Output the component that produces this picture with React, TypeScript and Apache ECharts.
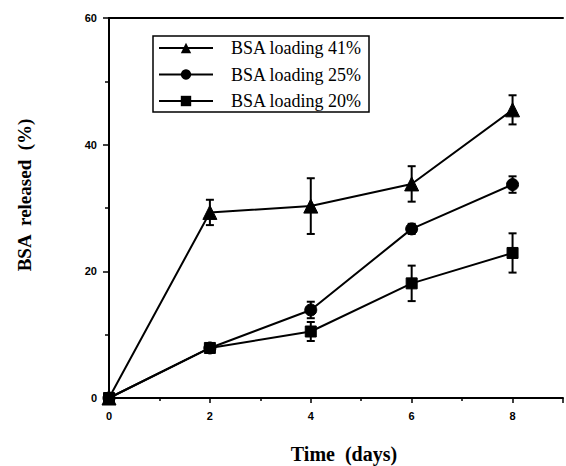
import React, { useEffect, useRef } from "react";
import * as echarts from "echarts";

const days = [0, 2, 4, 6, 8];
const load41 = [0, 29.3, 30.3, 33.8, 45.5];
const load41Err = [0, 2.0, 4.4, 2.8, 2.3];
const load25 = [0, 7.9, 13.9, 26.7, 33.7];
const load25Err = [0, 0.5, 1.3, 0.8, 1.3];
const load20 = [0, 7.9, 10.5, 18.1, 22.9];
const load20Err = [0, 0.5, 1.5, 2.8, 3.1];
const seriesNames = ["BSA loading 41%", "BSA loading 25%", "BSA loading 20%"];
const xTicks = [0, 2, 4, 6, 8];
const yTicks = [0, 20, 40, 60];

const SERIF = "'Liberation Serif', 'DejaVu Serif', serif";
const SANS = "'Liberation Sans', Arial, sans-serif";

function pairs(ys: number[]) {
  return days.map((d, i) => [d, ys[i]]);
}

function errSeries(ys: number[], errs: number[]) {
  return {
    type: "custom",
    silent: true,
    z: 3,
    data: days.map((d, i) => [d, ys[i], errs[i]]),
    renderItem: (_params: any, api: any) => {
      const x = api.value(0);
      const y = api.value(1);
      const e = api.value(2);
      if (!e) return { type: "group", children: [] };
      const top = api.coord([x, y + e]);
      const bot = api.coord([x, y - e]);
      const w = 4;
      const style = { stroke: "#000", lineWidth: 2 };
      return {
        type: "group",
        children: [
          { type: "line", shape: { x1: top[0], y1: top[1], x2: bot[0], y2: bot[1] }, style },
          { type: "line", shape: { x1: top[0] - w, y1: top[1], x2: top[0] + w, y2: top[1] }, style },
          { type: "line", shape: { x1: bot[0] - w, y1: bot[1], x2: bot[0] + w, y2: bot[1] }, style },
        ],
      };
    },
  };
}

export default function App() {
  const ref = useRef<HTMLDivElement>(null);
  useEffect(() => {
    document.body.style.margin = "0";
    if (!ref.current) return;
    const chart = echarts.init(ref.current, undefined, { renderer: "svg" });
    const lineBase = {
      type: "line",
      z: 4,
      lineStyle: { color: "#000", width: 2 },
      itemStyle: { color: "#000", borderColor: "#000" },
      showAllSymbol: true,
    };
    chart.setOption({
      animation: false,
      backgroundColor: "#fff",
      grid: { left: 109, top: 18, right: 0, bottom: 68, containLabel: false },
      legend: {
        orient: "vertical",
        left: 153,
        top: 36,
        data: seriesNames,
        backgroundColor: "#fff",
        borderColor: "#000",
        borderWidth: 1.5,
        borderRadius: 0,
        padding: [3, 7, 2, 5],
        itemWidth: 54,
        itemHeight: 13,
        itemGap: 8.5,
        textStyle: {
          fontFamily: SERIF,
          fontSize: 18,
          lineHeight: 18,
          color: "#000",
          padding: [0, 0, 0, 13],
        },
      },
      xAxis: [
        {
          type: "value",
          min: 0,
          max: 9,
          interval: 2,
          axisLine: { show: true, lineStyle: { color: "#000", width: 2 } },
          axisTick: { show: true, inside: false, length: 5, lineStyle: { color: "#000", width: 1.5 } },
          minorTick: { show: true, splitNumber: 2, length: 3, lineStyle: { color: "#000", width: 1.5 } },
          splitLine: { show: false },
          axisLabel: {
            fontFamily: SANS,
            fontWeight: "bold",
            fontSize: 11,
            color: "#000",
            margin: 12,
            formatter: (v: number) => (xTicks.includes(v) ? String(v) : ""),
          },
        },
        {
          type: "value",
          position: "top",
          min: 0,
          max: 9,
          axisLine: { show: true, onZero: false, lineStyle: { color: "#000", width: 2 } },
          axisTick: { show: false },
          axisLabel: { show: false },
          splitLine: { show: false },
        },
      ],
      yAxis: {
        type: "value",
        min: 0,
        max: 60,
        interval: 20,
        axisLine: { show: true, lineStyle: { color: "#000", width: 2 } },
        axisTick: { show: true, inside: false, length: 6, lineStyle: { color: "#000", width: 1.5 } },
        minorTick: { show: true, splitNumber: 2, length: 4, lineStyle: { color: "#000", width: 1.5 } },
        splitLine: { show: false },
        axisLabel: {
          fontFamily: SANS,
          fontWeight: "bold",
          fontSize: 11,
          color: "#000",
          margin: 12,
          formatter: (v: number) => (yTicks.includes(v) ? String(v) : ""),
        },
      },
      graphic: [
        {
          type: "text",
          x: 344,
          y: 454,
          style: {
            text: "Time  (days)",
            font: `bold 20px ${SERIF}`,
            fill: "#000",
            align: "center",
            verticalAlign: "middle",
          },
        },
        {
          type: "text",
          x: 24,
          y: 195,
          rotation: Math.PI / 2,
          style: {
            text: "BSA  released  (%)",
            font: `bold 19px ${SERIF}`,
            fill: "#000",
            align: "center",
            verticalAlign: "middle",
          },
        },
      ],
      series: [
        { ...lineBase, name: seriesNames[0], data: pairs(load41), symbol: "triangle", symbolSize: 14 },
        { ...lineBase, name: seriesNames[1], data: pairs(load25), symbol: "circle", symbolSize: 12 },
        { ...lineBase, name: seriesNames[2], data: pairs(load20), symbol: "rect", symbolSize: 11 },
        errSeries(load41, load41Err),
        errSeries(load25, load25Err),
        errSeries(load20, load20Err),
      ],
    });
    return () => chart.dispose();
  }, []);
  return <div ref={ref} style={{ width: 566, height: 466 }} />;
}
